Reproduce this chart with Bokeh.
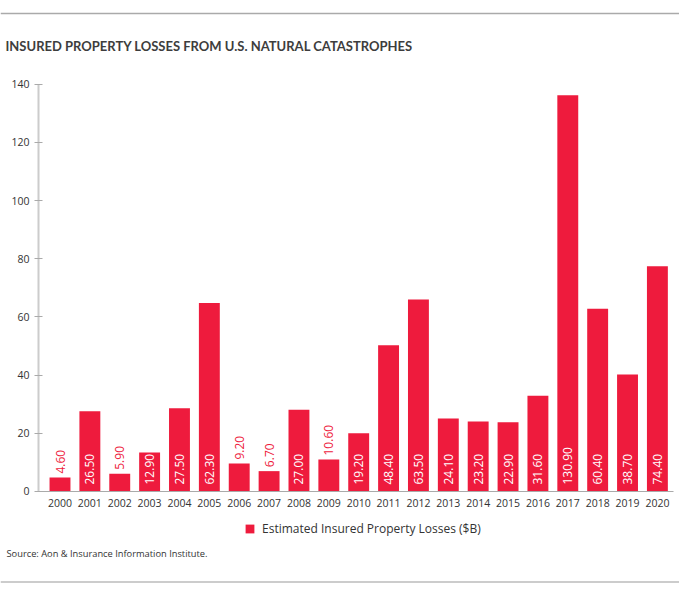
from bokeh.plotting import figure
from bokeh.models import (Range1d, FixedTicker, Label, Legend, LegendItem,
                          BoxAnnotation, ColumnDataSource)
from bokeh.core.properties import value
from bokeh.embed import file_html
from bokeh.resources import INLINE

# ---- data ----
years = [2000, 2001, 2002, 2003, 2004, 2005, 2006, 2007, 2008, 2009, 2010,
         2011, 2012, 2013, 2014, 2015, 2016, 2017, 2018, 2019, 2020]
# bar heights as drawn against the axis
bar_heights = [4.8, 27.6, 6.1, 13.4, 28.6, 64.8, 9.6, 7.0, 28.1, 11.0, 20.0,
               50.3, 66.0, 25.1, 24.1, 23.8, 32.9, 136.2, 62.8, 40.2, 77.4]
# value labels printed on the bars
bar_labels = ["4.60", "26.50", "5.90", "12.90", "27.50", "62.30", "9.20", "6.70",
              "27.00", "10.60", "19.20", "48.40", "63.50", "24.10", "23.20",
              "22.90", "31.60", "130.90", "60.40", "38.70", "74.40"]
y_ticks = [0, 20, 40, 60, 80, 100, 120, 140]
title_text = "INSURED PROPERTY LOSSES FROM U.S. NATURAL CATASTROPHES"
legend_text = "Estimated Insured Property Losses ($B)"
source_text = "Source: Aon & Insurance Information Institute."

RED = "#EE1B3D"
FONT = "Open Sans"
TXT = "#333333"
W, H = 679, 595

inside = [h >= 12 for h in bar_heights]
src = ColumnDataSource(dict(
    year=years, height=bar_heights, label=bar_labels,
    ly=[0 if i else h for i, h in zip(inside, bar_heights)],
    loff=[-7 if i else -4 for i in inside],
    lcol=["white" if i else RED for i in inside],
))

# frame covers the whole canvas; axes are pinned inside it
X0, X1 = 1998.008, 2020.74
Y0, Y1 = -35.75, 168.77
p = figure(width=W, height=H, output_backend="svg", toolbar_location=None,
           x_range=Range1d(X0, X1), y_range=Range1d(Y0, Y1),
           min_border=0, min_border_left=0, min_border_right=0,
           min_border_top=0, min_border_bottom=0)
p.outline_line_color = None
p.grid.grid_line_color = None
p.background_fill_color = "white"
p.border_fill_color = "white"

bars = p.vbar(x="year", top="height", width=0.7, source=src,
              fill_color=RED, line_color=None)

p.text(x="year", y="ly", text="label", source=src, angle=1.5707963,
       text_align="left", text_baseline="middle", y_offset="loff",
       text_color="lcol", text_font=value(FONT), text_font_size="12px")

AX_LEFT, AX_RIGHT = 1999.28, 2020.54

# axes
p.xaxis.fixed_location = 0
p.xaxis.bounds = (AX_LEFT, AX_RIGHT)
p.xaxis.ticker = FixedTicker(ticks=years)
p.xaxis.major_tick_line_color = None
p.xaxis.minor_tick_line_color = None
p.xaxis.axis_line_color = "#aaaaaa"
p.xaxis.axis_line_width = 1.2
p.xaxis.major_label_text_font = FONT
p.xaxis.major_label_text_font_size = "10.5px"
p.xaxis.major_label_text_color = TXT
p.xaxis.major_label_standoff = 2

p.yaxis.fixed_location = AX_LEFT
p.yaxis.bounds = (0, 140)
p.yaxis.ticker = FixedTicker(ticks=y_ticks)
p.yaxis.minor_tick_line_color = None
p.yaxis.axis_line_color = "#cccccc"
p.yaxis.axis_line_width = 2
p.yaxis.major_tick_line_color = "#aaaaaa"
p.yaxis.major_tick_out = 4
p.yaxis.major_tick_in = 4
p.yaxis.major_label_text_font = FONT
p.yaxis.major_label_text_font_size = "10.5px"
p.yaxis.major_label_text_color = TXT
p.yaxis.major_label_standoff = 5

# title, source
p.add_layout(Label(x=5, y=H - 45, x_units="screen", y_units="screen",
                   text=title_text, text_font="Lato",
                   text_font_style="bold", text_font_size="13px",
                   text_color="#3d3d3d", text_baseline="middle"))
p.add_layout(Label(x=6, y=H - 553, x_units="screen", y_units="screen",
                   text=source_text, text_font=FONT, text_font_size="9.3px",
                   text_color=TXT, text_baseline="middle"))

# horizontal rules
p.add_layout(BoxAnnotation(left=0, right=W, top=H - 12.3, bottom=H - 13.7,
                           left_units="screen", right_units="screen",
                           top_units="screen", bottom_units="screen",
                           fill_color="#aaaaaa", fill_alpha=1, line_color=None))
p.add_layout(BoxAnnotation(left=0, right=W, top=H - 580.5, bottom=H - 582.5,
                           left_units="screen", right_units="screen",
                           top_units="screen", bottom_units="screen",
                           fill_color="#cccccc", fill_alpha=1, line_color=None))

legend = Legend(items=[LegendItem(label=legend_text, renderers=[bars])],
                location=(244, H - 537), orientation="horizontal",
                glyph_width=11, glyph_height=11, label_height=11,
                label_standoff=7, padding=0, margin=0, spacing=0,
                border_line_color=None, background_fill_alpha=0,
                label_text_font=FONT, label_text_font_size="12px",
                label_text_color=TXT)
p.add_layout(legend)

open("out.html", "w").write(file_html(p, INLINE))
